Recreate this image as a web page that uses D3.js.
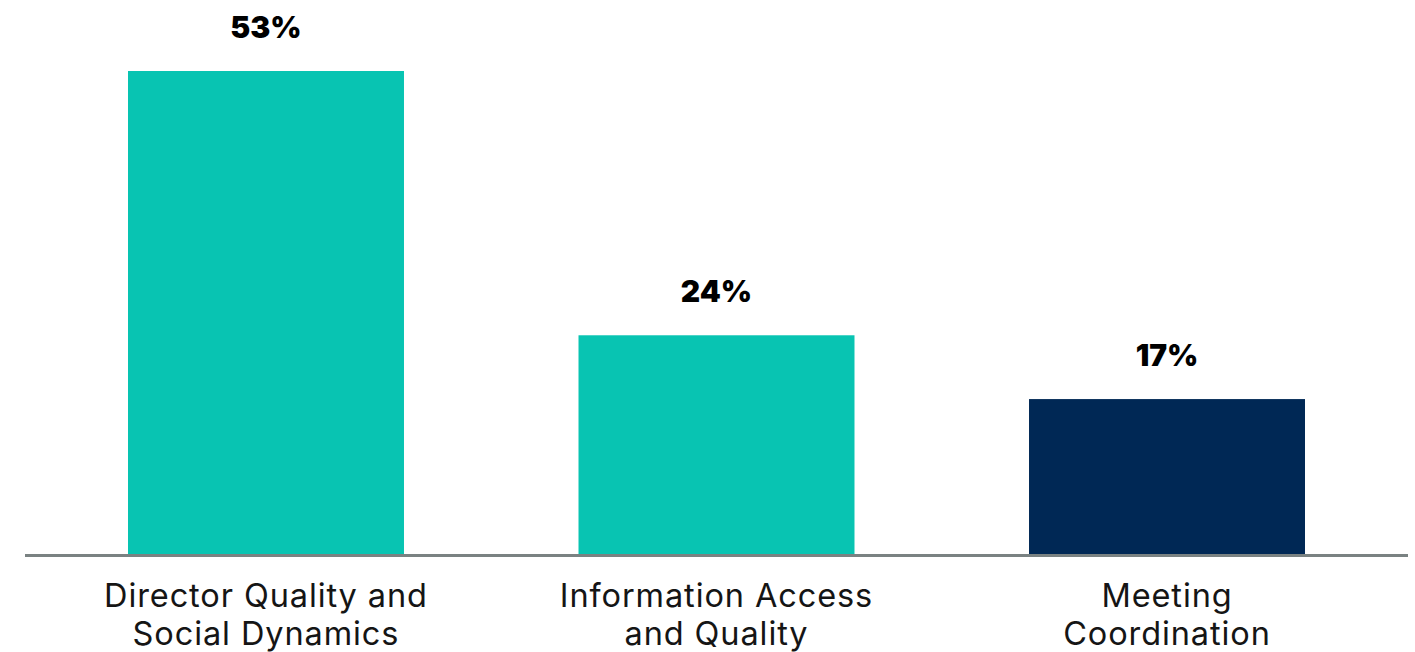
<!DOCTYPE html>
<html>
<head>
<meta charset="utf-8">
<script src="https://cdn.jsdelivr.net/npm/d3@7"></script>
<style>
  html, body { margin: 0; padding: 0; background: #ffffff; }
  svg { display: block; }
</style>
</head>
<body>
<svg id="chart" width="1415" height="652"></svg>
<script>
const categories = [
  ["Director Quality and", "Social Dynamics"],
  ["Information Access", "and Quality"],
  ["Meeting", "Coordination"]
];
const categoryKeys = ["Director Quality and Social Dynamics", "Information Access and Quality", "Meeting Coordination"];
const values = [53, 24, 17];
const barColors = ["#08c4b2", "#08c4b2", "#002855"];

const W = 1415, H = 652;
const svg = d3.select("#chart");

const baseline = 554;
const x = d3.scaleBand()
  .domain(categoryKeys)
  .range([128, 1305])
  .paddingInner(0.3874)
  .paddingOuter(0);

const y = d3.scaleLinear()
  .domain([0, 53])
  .range([baseline, 71]);

const data = categoryKeys.map((k, i) => ({ key: k, lines: categories[i], value: values[i], color: barColors[i] }));

// bars
svg.append("g").selectAll("rect")
  .data(data)
  .join("rect")
  .attr("x", d => x(d.key))
  .attr("y", d => y(d.value))
  .attr("width", x.bandwidth())
  .attr("height", d => y(0) - y(d.value))
  .attr("fill", d => d.color);

// axis line
svg.append("line")
  .attr("x1", 25).attr("x2", 1408)
  .attr("y1", baseline + 1.5).attr("y2", baseline + 1.5)
  .attr("stroke", "#7a8282")
  .attr("stroke-width", 3);

// value labels
svg.append("g").selectAll("text")
  .data(data)
  .join("text")
  .attr("x", d => x(d.key) + x.bandwidth() / 2)
  .attr("y", d => y(d.value) - 33)
  .attr("text-anchor", "middle")
  .attr("font-family", "Inter, 'Noto Sans', sans-serif")
  .attr("font-weight", 900)
  .attr("font-size", 30)
  .attr("fill", "#000")
  .text(d => d.value + "%");

// category labels
const cat = svg.append("g").selectAll("text")
  .data(data)
  .join("text")
  .attr("x", d => x(d.key) + x.bandwidth() / 2)
  .attr("y", 607)
  .attr("text-anchor", "middle")
  .attr("font-family", "Inter, 'Noto Sans', sans-serif")
  .attr("font-weight", 400)
  .attr("font-size", 32.5)
  .attr("letter-spacing", 0.9)
  .attr("fill", "#151515");

cat.selectAll("tspan")
  .data(d => d.lines.map(l => ({ l, cx: x(d.key) + x.bandwidth() / 2 })))
  .join("tspan")
  .attr("x", t => t.cx)
  .attr("dy", (t, i) => i === 0 ? 0 : 38)
  .text(t => t.l);
</script>
</body>
</html>
